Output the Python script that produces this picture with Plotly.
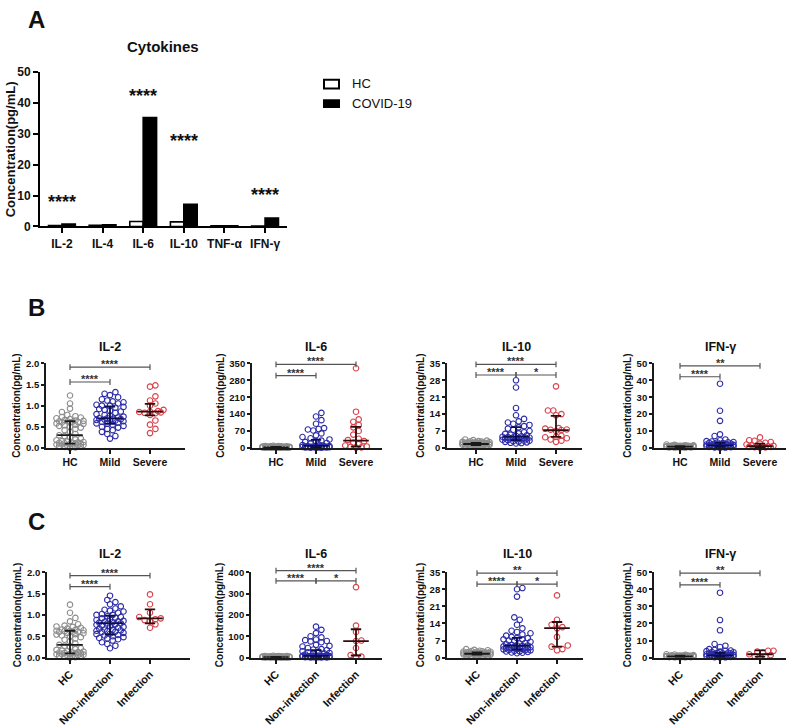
import numpy as np
import plotly.graph_objects as go

W, H = 787, 727
FONT = "Liberation Sans, Arial, sans-serif"

# ---------------- Panel A data ----------------
cytokines = ["IL-2", "IL-4", "IL-6", "IL-10", "TNF-α", "IFN-γ"]
hc_conc = [0.3, 0.4, 1.6, 1.5, 0.2, 0.1]
covid_conc = [0.8, 0.55, 35.3, 7.2, 0.2, 2.7]
a_sig = ["****", "", "****", "****", "", "****"]
a_sig_y = [9.7, 0, 44.0, 29.4, 0, 11.9]

# ---------------- Panel B / C data ----------------
groups_B = ["HC", "Mild", "Severe"]
groups_C = ["HC", "Non-infection", "Infection"]

# IL-2
hc_il2 = [0.0, 0.01, 0.02, 0.03, 0.04, 0.05, 0.05, 0.06, 0.07, 0.08, 0.08, 0.09, 0.1, 0.1,
          0.11, 0.12, 0.12, 0.13, 0.14, 0.15, 0.16, 0.18, 0.2, 0.22, 0.25, 0.28, 0.3, 0.33,
          0.38, 0.42, 0.45, 0.48, 0.5, 0.52, 0.54, 0.55, 0.57, 0.58, 0.6, 0.6, 0.61, 0.62,
          0.63, 0.63, 0.64, 0.65, 0.66, 0.68, 0.7, 0.72, 0.73, 0.75, 0.78, 0.85, 0.93, 1.05, 1.24]
mild_il2 = [0.22, 0.28, 0.33, 0.38, 0.42, 0.45, 0.48, 0.5, 0.52, 0.55, 0.57, 0.58, 0.6, 0.62,
            0.63, 0.64, 0.65, 0.66, 0.67, 0.68, 0.69, 0.7, 0.7, 0.72, 0.74, 0.76, 0.78, 0.8,
            0.83, 0.86, 0.88, 0.9, 0.92, 0.95, 0.97, 1.0, 1.0, 1.02, 1.05, 1.08, 1.1, 1.12,
            1.15, 1.2, 1.25, 1.28, 1.32]
severe_il2 = [1.48, 1.45, 1.22, 1.12, 1.05, 1.0, 0.9, 0.87, 0.86, 0.85, 0.84, 0.83, 0.82,
              0.78, 0.65, 0.55, 0.45, 0.35]
noninf_il2 = [0.22, 0.28, 0.32, 0.36, 0.4, 0.43, 0.46, 0.48, 0.5, 0.52, 0.53, 0.55, 0.56, 0.58,
              0.6, 0.61, 0.62, 0.64, 0.65, 0.66, 0.68, 0.7, 0.72, 0.73, 0.75, 0.77, 0.78, 0.8,
              0.8, 0.82, 0.83, 0.85, 0.86, 0.88, 0.9, 0.92, 0.93, 0.95, 0.97, 1.0, 1.0, 1.02,
              1.05, 1.08, 1.1, 1.12, 1.15, 1.2, 1.25, 1.3, 1.35, 1.45, 0.45, 0.63, 0.84]
inf_il2 = [1.48, 1.25, 1.05, 0.95, 0.92, 0.9, 0.88, 0.85, 0.78, 0.7]

# IL-6
hc_il6 = [0.5, 0.8, 1, 1.2, 1.5, 1.8, 2, 2.2, 2.5, 2.8, 3, 3.2, 3.5, 3.8, 4, 4.2, 4.5, 4.8, 5,
          5.5, 6, 6.5, 7, 7.5, 8, 9, 1.1, 1.6, 2.4, 3.1, 3.6, 4.4, 5.2, 6.2, 2.1, 2.7, 3.3,
          1.4, 0.9, 4.1]
mild_il6 = [145, 130, 115, 100, 82, 78, 76, 72, 60, 52, 45, 40, 35, 30, 28, 25, 20, 18, 15, 12,
            10, 9, 8, 7, 7, 6, 6, 5, 5, 5, 4, 4, 4, 3, 3, 3, 2.5, 2, 2, 1.5, 1, 1, 0.5]
severe_il6 = [330, 150, 118, 108, 95, 85, 70, 55, 38, 32, 28, 22, 15, 10, 6, 4, 2, 1]
noninf_il6 = [145, 130, 115, 100, 95, 85, 82, 78, 76, 72, 60, 55, 52, 45, 40, 38, 35, 30, 28,
              25, 22, 20, 18, 15, 12, 10, 9, 8, 8, 7, 7, 6, 6, 5, 5, 5, 4, 4, 4, 3, 3, 3, 2.5,
              2, 2, 1.5, 1, 1, 0.5, 6, 4]
inf_il6 = [330, 150, 120, 80, 78, 45, 12, 5, 3]

# IL-10
hc_il10 = [0.6, 0.8, 0.9, 1, 1, 1.1, 1.2, 1.2, 1.3, 1.4, 1.4, 1.5, 1.5, 1.6, 1.6, 1.7, 1.8, 1.8,
           1.9, 2, 2, 2.1, 2.2, 2.3, 2.4, 2.5, 2.6, 2.8, 3, 3.2, 3.5, 1.3, 1.7, 2.1, 1.1, 0.7,
           1.5, 1.9, 2.4, 2.7]
mild_il10 = [28, 25, 16.5, 13.5, 12, 11, 10.5, 10, 9.5, 9, 8.5, 8, 7.5, 7, 6.5, 6, 5.5, 5.2, 5,
             4.8, 4.6, 4.5, 4.4, 4.2, 4, 4, 3.8, 3.6, 3.5, 3.4, 3.2, 3, 3, 2.8, 2.6, 2.5, 2.3,
             2.1, 2, 1.8, 5.8, 4.3, 3.9]
severe_il10 = [25.5, 15.5, 15.5, 14, 13.5, 8.2, 8, 7.6, 7.5, 7.4, 7, 5, 4.6, 4.4, 4, 3.5, 3, 2.5]
noninf_il10 = [28.5, 28, 25, 16.5, 15.5, 13.5, 12, 11, 10.5, 10, 9.5, 9, 8.5, 8, 8, 7.5, 7.5, 7,
               7, 6.5, 6, 5.5, 5.2, 5, 5, 4.8, 4.6, 4.5, 4.4, 4.2, 4, 4, 3.8, 3.6, 3.5, 3.4,
               3.2, 3, 3, 2.8, 2.6, 2.5, 2.3, 2.1, 2, 1.8, 4.3, 3.9, 5.8]
inf_il10 = [25.5, 15.5, 13.5, 12.5, 12, 8.5, 5, 4.5, 3.5, 3]

# IFN-gamma
hc_ifn = [0.1, 0.2, 0.3, 0.3, 0.4, 0.5, 0.5, 0.6, 0.6, 0.7, 0.7, 0.8, 0.8, 0.9, 0.9, 1, 1, 1.1,
          1.2, 1.3, 1.4, 1.5, 1.6, 1.8, 2, 0.4, 0.6, 0.8, 1, 1.2, 0.2, 0.5, 0.9, 1.1, 1.3, 0.7]
mild_ifn = [38, 22, 16, 8, 7, 5, 4.5, 4, 3.8, 3.5, 3.2, 3, 2.8, 2.6, 2.4, 2.2, 2, 2, 1.8, 1.6,
            1.5, 1.4, 1.2, 1, 1, 0.9, 0.8, 0.7, 0.6, 0.5, 0.5, 0.4, 0.3, 0.2, 0.1, 1.3, 0.9,
            2.5, 3.3, 1.7]
severe_ifn = [6.2, 4.5, 4.2, 3.5, 3, 2.5, 2, 1.5, 1.2, 1, 0.9, 0.8, 0.6, 0.5, 0.4, 0.3, 0.2]
noninf_ifn = [38, 22, 16, 8, 7, 6.2, 5, 4.5, 4.2, 4, 3.8, 3.5, 3.2, 3, 2.8, 2.6, 2.4, 2.2, 2, 2,
              1.8, 1.6, 1.5, 1.4, 1.2, 1, 1, 0.9, 0.8, 0.7, 0.6, 0.5, 0.5, 0.4, 0.3, 0.2, 0.1,
              1.3, 0.9, 2.5, 3.3, 1.7, 0.6, 1.1]
inf_ifn = [4, 4, 3.6, 3, 2, 1.5, 1, 0.6, 0.3]

# median / interquartile range: [HC, group2, group3]
b_il2_med, b_il2_q1, b_il2_q3 = [0.30, 0.70, 0.86], [0.10, 0.57, 0.77], [0.63, 0.98, 1.04]
c_il2_med, c_il2_q1, c_il2_q3 = [0.30, 0.81, 0.92], [0.10, 0.54, 0.80], [0.63, 0.98, 1.13]
b_il6_med, b_il6_q1, b_il6_q3 = [2, 8, 30], [1, 3, 5], [4, 33, 87]
c_il6_med, c_il6_q1, c_il6_q3 = [2, 8, 77], [1, 3, 10], [4, 35, 133]
b_il10_med, b_il10_q1, b_il10_q3 = [1.6, 4.7, 7.3], [1.2, 3.2, 4.6], [2.1, 8.6, 13.3]
c_il10_med, c_il10_q1, c_il10_q3 = [1.6, 4.9, 12.1], [1.2, 3.3, 4.5], [2.1, 8.1, 14.6]
b_ifn_med, b_ifn_q1, b_ifn_q3 = [0.7, 1.5, 1.0], [0.4, 0.6, 0.4], [1.1, 3.0, 2.5]
c_ifn_med, c_ifn_q1, c_ifn_q3 = [0.7, 1.3, 2.0], [0.4, 0.5, 0.5], [1.1, 2.8, 4.3]

# significance brackets: (group i, group j, y value, label)
b_il2_sig = [(0, 2, 1.91, "****"), (0, 1, 1.56, "****")]
b_il6_sig = [(0, 2, 346, "****"), (0, 1, 299, "****")]
b_il10_sig = [(0, 2, 34.6, "****"), (0, 1, 30.2, "****"), (1, 2, 30.2, "*")]
b_ifn_sig = [(0, 2, 48.5, "**"), (0, 1, 42.1, "****")]
c_il2_sig = [(0, 2, 1.92, "****"), (0, 1, 1.66, "****")]
c_il6_sig = [(0, 2, 407, "****"), (0, 1, 359, "****"), (1, 2, 359, "*")]
c_il10_sig = [(0, 2, 34.6, "**"), (0, 1, 30.1, "****"), (1, 2, 30.1, "*")]
c_ifn_sig = [(0, 2, 49.4, "**"), (0, 1, 42.6, "****")]

# ---------------- styling ----------------
PT_COLORS = ["#8c8c8c", "#2b2ba8", "#d8404a"]
BAR_COLORS = ["#1a1a1a", "#0c0c50", "#300c0c"]
AX_COL = "#1a1a1a"
SPACING = 40.0  # px per category


def dom_x(a, b):
    return [a / W, b / W]


def dom_y(top, bot):
    return [1 - bot / H, 1 - top / H]


def ptext(xpx, ypx, text, size, bold=True, angle=0, xanchor="center", color="#111"):
    return dict(x=xpx / W, y=1 - ypx / H, xref="paper", yref="paper", text=text,
                showarrow=False, xanchor=xanchor, yanchor="middle", textangle=angle,
                font=dict(family=FONT, size=size, color=color,
                          weight="bold" if bold else "normal"))


def swarm_offsets(vals, ppu, d=5.4, maxhalf=15.0):
    vals = np.asarray(vals, float)
    ypx = vals * ppu
    order = np.argsort(ypx, kind="stable")
    px_l, py_l = [], []
    out = np.zeros(len(vals))
    step = d * 0.5
    nmax = int(maxhalf // step)
    cands = [0.0]
    for k in range(1, nmax + 1):
        cands += [k * step, -k * step]
    for i in order:
        y = ypx[i]
        pxa, pya = np.array(px_l), np.array(py_l)
        chosen, best, bestscore = None, 0.0, -1.0
        for c in cands:
            dist = np.inf
            if len(pxa):
                m = np.abs(pya - y) < d
                if m.any():
                    dist = np.sqrt((pxa[m] - c) ** 2 + (pya[m] - y) ** 2).min()
            if dist >= d * 0.95:
                chosen = c
                break
            if dist > bestscore + 1e-9:
                bestscore, best = dist, c
        if chosen is None:
            chosen = best
        out[i] = chosen
        px_l.append(chosen)
        py_l.append(y)
    return out / SPACING


panels = [
    dict(title="IL-2", cats=groups_B, data=[hc_il2, mild_il2, severe_il2],
         med=b_il2_med, q1=b_il2_q1, q3=b_il2_q3, ymax=2.0, dtick=0.5, fmt=".1f",
         x0=46, hc=70, x1=185, top=367, bot=454, sig=b_il2_sig, rot=False),
    dict(title="IL-6", cats=groups_B, data=[hc_il6, mild_il6, severe_il6],
         med=b_il6_med, q1=b_il6_q1, q3=b_il6_q3, ymax=350, dtick=70, fmt="d",
         x0=252, hc=276, x1=382, top=367, bot=454, sig=b_il6_sig, rot=False),
    dict(title="IL-10", cats=groups_B, data=[hc_il10, mild_il10, severe_il10],
         med=b_il10_med, q1=b_il10_q1, q3=b_il10_q3, ymax=35, dtick=7, fmt="d",
         x0=447, hc=476, x1=582, top=367, bot=454, sig=b_il10_sig, rot=False),
    dict(title="IFN-γ", cats=groups_B, data=[hc_ifn, mild_ifn, severe_ifn],
         med=b_ifn_med, q1=b_ifn_q1, q3=b_ifn_q3, ymax=50, dtick=10, fmt="d",
         x0=654, hc=680, x1=786, top=367, bot=454, sig=b_ifn_sig, rot=False),
    dict(title="IL-2", cats=groups_C, data=[hc_il2, noninf_il2, inf_il2],
         med=c_il2_med, q1=c_il2_q1, q3=c_il2_q3, ymax=2.0, dtick=0.5, fmt=".1f",
         x0=47, hc=70, x1=190, top=582, bot=670, sig=c_il2_sig, rot=True),
    dict(title="IL-6", cats=groups_C, data=[hc_il6, noninf_il6, inf_il6],
         med=c_il6_med, q1=c_il6_q1, q3=c_il6_q3, ymax=400, dtick=100, fmt="d",
         x0=251, hc=276, x1=382, top=582, bot=670, sig=c_il6_sig, rot=True),
    dict(title="IL-10", cats=groups_C, data=[hc_il10, noninf_il10, inf_il10],
         med=c_il10_med, q1=c_il10_q1, q3=c_il10_q3, ymax=35, dtick=7, fmt="d",
         x0=447, hc=477, x1=583, top=582, bot=670, sig=c_il10_sig, rot=True),
    dict(title="IFN-γ", cats=groups_C, data=[hc_ifn, noninf_ifn, inf_ifn],
         med=c_ifn_med, q1=c_ifn_q1, q3=c_ifn_q3, ymax=50, dtick=10, fmt="d",
         x0=654, hc=680, x1=786, top=582, bot=670, sig=c_ifn_sig, rot=True),
]

fig = go.Figure()
annotations = []
shapes = []

# ---------------- Panel A ----------------
fig.add_trace(go.Bar(x=cytokines, y=hc_conc, name="HC", xaxis="x", yaxis="y",
                     marker=dict(color="white", line=dict(color="black", width=1.6)),
                     showlegend=False))
fig.add_trace(go.Bar(x=cytokines, y=covid_conc, name="COVID-19", xaxis="x", yaxis="y",
                     marker=dict(color="black", line=dict(color="black", width=1.6)),
                     showlegend=False))
for c, s, yv in zip(cytokines, a_sig, a_sig_y):
    if s:
        annotations.append(dict(x=c, y=yv, xref="x", yref="y", text=s, showarrow=False,
                                xanchor="center", yanchor="middle", yshift=-5,
                                font=dict(family=FONT, size=18, color="#111", weight="bold")))

layout_axes = dict(
    xaxis=dict(domain=dom_x(40, 287), anchor="y", range=[-0.54, 5.54], showline=True,
               linecolor="black", linewidth=2, ticks="outside", ticklen=5, tickwidth=2,
               tickcolor="black", showgrid=False, zeroline=False,
               tickfont=dict(family=FONT, size=12, color="#111", weight="bold")),
    yaxis=dict(domain=dom_y(67, 226), anchor="x", range=[0, 50], dtick=10, showline=True,
               linecolor="black", linewidth=2, ticks="outside", ticklen=5, tickwidth=2,
               tickcolor="black", showgrid=False, zeroline=False,
               tickfont=dict(family=FONT, size=12, color="#111", weight="bold")),
)

annotations += [
    ptext(36, 13, "A", 24),
    ptext(36, 309, "B", 24),
    ptext(36, 530, "C", 24),
    ptext(163, 41, "Cytokines", 15),
    ptext(10, 146.5, "Concentration(pg/mL)", 13, angle=-90),
    ptext(350, 79, "HC", 13, bold=False, xanchor="left"),
    ptext(350, 99.5, "COVID-19", 13, bold=False, xanchor="left"),
]
shapes += [
    dict(type="rect", xref="paper", yref="paper", x0=324 / W, x1=339 / W,
         y0=1 - 84 / H, y1=1 - 75 / H, fillcolor="white", line=dict(color="black", width=2)),
    dict(type="rect", xref="paper", yref="paper", x0=323 / W, x1=340 / W,
         y0=1 - 104 / H, y1=1 - 95 / H, fillcolor="black", line=dict(color="black", width=0)),
]

# ---------------- Panels B and C ----------------
for k, p in enumerate(panels):
    n = k + 2
    xa, ya = f"x{n}", f"y{n}"
    ppu = (p["bot"] - p["top"]) / p["ymax"]
    r0 = -(p["hc"] - p["x0"]) / SPACING
    r1 = (p["x1"] - p["hc"]) / SPACING
    for g, vals in enumerate(p["data"]):
        offs = swarm_offsets(vals, ppu)
        fig.add_trace(go.Scatter(
            x=g + offs, y=vals, mode="markers", xaxis=xa, yaxis=ya, showlegend=False,
            marker=dict(symbol="circle-open", size=5.5, color=PT_COLORS[g],
                        line=dict(width=1.1, color=PT_COLORS[g])),
            cliponaxis=False))
    for g in range(3):
        md, lo, hi = p["med"][g], p["q1"][g], p["q3"][g]
        fig.add_trace(go.Scatter(
            x=[g - 0.32, g + 0.32, None, g, g, None, g - 0.13, g + 0.13, None, g - 0.13, g + 0.13],
            y=[md, md, None, lo, hi, None, lo, lo, None, hi, hi],
            mode="lines", xaxis=xa, yaxis=ya, showlegend=False,
            line=dict(color=BAR_COLORS[g], width=1.8)))
    tickvals = list(np.round(np.arange(0, p["ymax"] + p["dtick"] / 2, p["dtick"]), 6))
    layout_axes[f"xaxis{n}"] = dict(
        domain=dom_x(p["x0"], p["x1"]), anchor=ya, range=[r0, r1], showline=True,
        linecolor=AX_COL, linewidth=1.8, ticks="outside", ticklen=4, tickwidth=1.5,
        tickcolor=AX_COL, showgrid=False, zeroline=False, tickvals=[0, 1, 2],
        ticktext=p["cats"], tickangle=-45 if p["rot"] else 0,
        tickfont=dict(family=FONT, size=11 if p["rot"] else 10.5, color="#111", weight="bold"))
    layout_axes[f"yaxis{n}"] = dict(
        domain=dom_y(p["top"], p["bot"]), anchor=xa, range=[0, p["ymax"]], showline=True,
        linecolor=AX_COL, linewidth=1.8, ticks="outside", ticklen=3, tickwidth=1.5,
        tickcolor=AX_COL, showgrid=False, zeroline=False, tickvals=tickvals,
        tickformat=p["fmt"],
        tickfont=dict(family=FONT, size=9.5, color="#111", weight="bold"),
        title=dict(text="Concentration(pg/mL)", standoff=3,
                   font=dict(family=FONT, size=10, color="#111", weight="bold")))
    # subplot title (centred on middle group)
    title_off = 17 if not p["rot"] else 19
    annotations.append(ptext(p["hc"] + SPACING, p["top"] - title_off, p["title"], 12.5))
    # brackets
    for (i, j, yv, lab) in p["sig"]:
        ypx = p["bot"] - yv * ppu
        xi = p["hc"] + i * SPACING
        xj = p["hc"] + j * SPACING
        yp = 1 - ypx / H
        lc = dict(color="#555", width=1.2)
        shapes.append(dict(type="line", xref="paper", yref="paper", x0=xi / W, x1=xj / W,
                           y0=yp, y1=yp, line=lc))
        for xx in (xi, xj):
            shapes.append(dict(type="line", xref="paper", yref="paper", x0=xx / W, x1=xx / W,
                               y0=1 - (ypx - 3) / H, y1=1 - (ypx + 3) / H, line=lc))
        annotations.append(ptext((xi + xj) / 2, ypx - 3, lab, 11, color="#333"))

fig.update_layout(
    width=W, height=H, margin=dict(l=0, r=0, t=0, b=0), autosize=False,
    paper_bgcolor="white", plot_bgcolor="white", showlegend=False,
    barmode="group", bargap=0.34, bargroupgap=0.0,
    annotations=annotations, shapes=shapes, **layout_axes)

fig.write_html("out.html", config={"displayModeBar": False},
               post_script="document.body.style.margin='0';document.body.style.padding='0';"
                           "document.body.style.overflow='hidden';")
